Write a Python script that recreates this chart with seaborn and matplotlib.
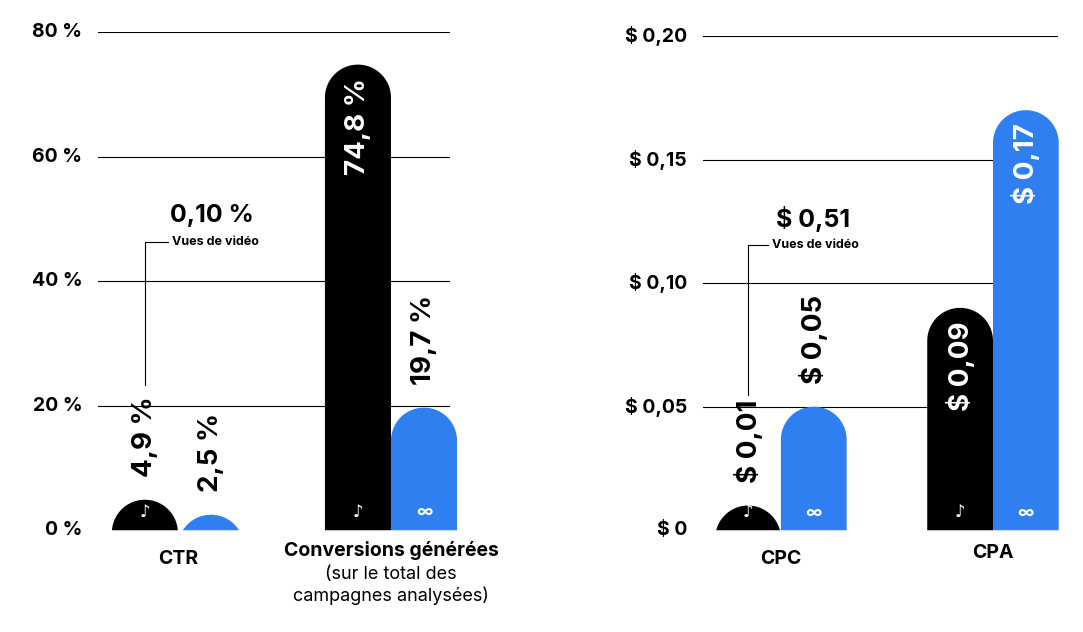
import matplotlib
matplotlib.use("Agg")
import matplotlib.pyplot as plt
import numpy as np
import pandas as pd
import seaborn as sns
from matplotlib.patches import Polygon
from matplotlib.transforms import blended_transform_factory

plt.rcParams["font.family"] = ["Inter", "DejaVu Sans"]

platforms = ["TikTok", "Meta"]
colors = {"TikTok": "#000000", "Meta": "#2f7ff0"}
icons = {"TikTok": "\u266a", "Meta": "\u221e"}

left_cats = ["CTR", "Conversions"]
left_tiktok = [4.9, 74.8]
left_meta = [2.5, 19.7]
left_labels_tiktok = ["4,9 %", "74,8 %"]
left_labels_meta = ["2,5 %", "19,7 %"]
left_ticks = [0, 20, 40, 60, 80]
left_ticklabels = ["0 %", "20 %", "40 %", "60 %", "80 %"]

right_cats = ["CPC", "CPA"]
right_tiktok = [0.01, 0.09]
right_meta = [0.05, 0.17]
right_labels_tiktok = ["$ 0,01", "$ 0,09"]
right_labels_meta = ["$ 0,05", "$ 0,17"]
right_ticks = [0, 0.05, 0.10, 0.15, 0.20]
right_ticklabels = ["$ 0", "$ 0,05", "$ 0,10", "$ 0,15", "$ 0,20"]

fig = plt.figure(figsize=(10.83, 6.32), dpi=100)
axL = fig.add_axes([0.0905, 0.161, 0.325, 0.788])
axR = fig.add_axes([0.649, 0.161, 0.328, 0.782])


def rounded_bars(ax, ymax):
    fig.canvas.draw()
    bb = ax.get_window_extent()
    x0, x1 = ax.get_xlim()
    px_x = bb.width / (x1 - x0)
    px_y = bb.height / ymax
    out = []
    for p in list(ax.patches):
        x, w, h = p.get_x(), p.get_width(), p.get_height()
        fc = p.get_facecolor()
        p.remove()
        if h <= 0:
            continue
        ry = (w / 2) * px_x / px_y
        cy = h - ry
        t = np.linspace(0, np.pi, 60)
        xs = x + w / 2 + (w / 2) * np.cos(t)
        ys = cy + ry * np.sin(t)
        pts = [(x + w, min(0, cy))] + list(zip(xs, ys)) + [(x, min(0, cy))]
        pts = [(a, max(b, 0)) for a, b in pts]
        poly = Polygon(pts, closed=True, facecolor=fc, edgecolor="none", zorder=3,
                       clip_on=False)
        ax.add_patch(poly)
        out.append((x + w / 2, h, fc))
    return out


def panel(ax, cats, tk, mt, lab_tk, lab_mt, ticks, ticklabels, ymax, xlim, inside_thr, off):
    df = pd.DataFrame({
        "cat": cats * 2,
        "platform": ["TikTok"] * len(cats) + ["Meta"] * len(cats),
        "value": tk + mt,
    })
    sns.barplot(data=df, x="cat", y="value", hue="platform", hue_order=platforms,
                palette=colors, width=0.62, ax=ax, legend=False, saturation=1)
    ax.set_xlim(*xlim)
    ax.set_ylim(0, ymax)
    for s in ax.spines.values():
        s.set_visible(False)
    ax.set_yticks(ticks[1:])
    ax.set_yticklabels([])
    for t, l in zip(ticks, ticklabels):
        ax.text(-0.045, t, l, transform=blended_transform_factory(ax.transAxes, ax.transData),
                ha="right", va="center", fontsize=14, fontweight="bold", clip_on=False)
    ax.grid(axis="y", color="black", linewidth=0.8, zorder=0)
    ax.set_axisbelow(True)
    ax.tick_params(length=0)
    ax.set_xlabel("")
    ax.set_ylabel("")
    ax.set_xticks([])
    bars = rounded_bars(ax, ymax)
    labels = lab_tk + lab_mt
    plats = ["TikTok"] * len(cats) + ["Meta"] * len(cats)
    for (xc, h, fc), lab, pl in zip(bars, labels, plats):
        if h > inside_thr:
            ax.text(xc, h - off * 0.6, lab, rotation=90, ha="center", va="top",
                    color="white", fontsize=20, fontweight="bold", zorder=5)
        else:
            ax.text(xc, h + off, lab, rotation=90, ha="center", va="bottom",
                    color="black", fontsize=20, fontweight="bold", zorder=5)
        ax.text(xc, ymax * 0.035, icons[pl], ha="center", va="center", color="white",
                fontsize=12, fontweight="bold", zorder=5)


panel(axL, left_cats, left_tiktok, left_meta, left_labels_tiktok, left_labels_meta,
      left_ticks, left_ticklabels, 80, (-0.375, 1.277), 30, 3.6)
panel(axR, right_cats, right_tiktok, right_meta, right_labels_tiktok, right_labels_meta,
      right_ticks, right_ticklabels, 0.20, (-0.368, 1.307), 0.08, 0.009)

# category labels
trL = blended_transform_factory(axL.transData, axL.transAxes)
axL.text(0, -0.04, "CTR", transform=trL, ha="center", va="top", fontsize=14, fontweight="bold")
axL.text(1, -0.022, "Conversions générées", transform=trL, ha="center", va="top",
         fontsize=14, fontweight="bold")
axL.text(1, -0.072, "(sur le total des\ncampagnes analysées)", transform=trL, ha="center",
         va="top", fontsize=13, linespacing=1.25)
trR = blended_transform_factory(axR.transData, axR.transAxes)
axR.text(0, -0.04, "CPC", transform=trR, ha="center", va="top", fontsize=14, fontweight="bold")
axR.text(1, -0.028, "CPA", transform=trR, ha="center", va="top", fontsize=14, fontweight="bold")

# video view callouts
axL.plot([-0.155, -0.155, -0.047], [23.3, 46.3, 46.3], color="black", lw=0.8, zorder=4)
axL.text(-0.03, 46.3, "Vues de vidéo", ha="left", va="center", fontsize=9, fontweight="bold")
axL.text(0.16, 50.6, "0,10 %", ha="center", va="center", fontsize=18, fontweight="bold")
axR.plot([-0.155, -0.155, -0.061], [0.0547, 0.1154, 0.1154], color="black", lw=0.8, zorder=4)
axR.text(-0.042, 0.1154, "Vues de vidéo", ha="left", va="center", fontsize=9, fontweight="bold")
axR.text(0.15, 0.126, "$ 0,51", ha="center", va="center", fontsize=18, fontweight="bold")

fig.savefig("out.png", dpi=100)
